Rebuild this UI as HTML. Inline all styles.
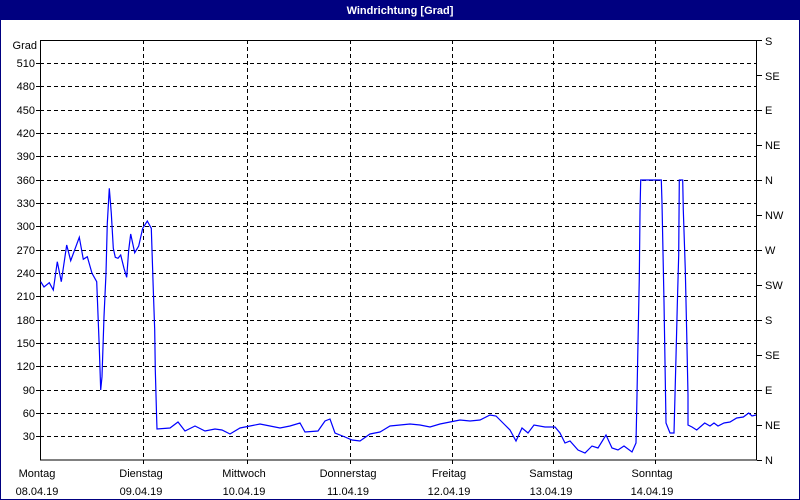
<!DOCTYPE html>
<html><head><meta charset="utf-8"><style>
html,body{margin:0;padding:0;background:#fff}
svg{display:block}
text{font-family:"Liberation Sans",sans-serif;font-size:11px;fill:#000}
</style></head><body>
<svg width="800" height="500" viewBox="0 0 800 500" xmlns="http://www.w3.org/2000/svg">
<rect x="0" y="0" width="800" height="500" fill="#fff"/>
<rect x="0.5" y="0.5" width="799" height="499" fill="none" stroke="#000080"/>
<rect x="0" y="0" width="800" height="20" fill="#000080"/>
<text x="400" y="14" text-anchor="middle" style="fill:#fff;font-weight:bold">Windrichtung [Grad]</text>
<g stroke="#000" stroke-dasharray="4,3" stroke-width="1">
<line x1="40" x2="757" y1="63.5" y2="63.5"/><line x1="40" x2="757" y1="86.5" y2="86.5"/>
<line x1="40" x2="757" y1="110.5" y2="110.5"/><line x1="40" x2="757" y1="133.5" y2="133.5"/>
<line x1="40" x2="757" y1="156.5" y2="156.5"/><line x1="40" x2="757" y1="180.5" y2="180.5"/>
<line x1="40" x2="757" y1="203.5" y2="203.5"/><line x1="40" x2="757" y1="226.5" y2="226.5"/>
<line x1="40" x2="757" y1="250.5" y2="250.5"/><line x1="40" x2="757" y1="273.5" y2="273.5"/>
<line x1="40" x2="757" y1="296.5" y2="296.5"/><line x1="40" x2="757" y1="320.5" y2="320.5"/>
<line x1="40" x2="757" y1="343.5" y2="343.5"/><line x1="40" x2="757" y1="366.5" y2="366.5"/>
<line x1="40" x2="757" y1="390.5" y2="390.5"/><line x1="40" x2="757" y1="413.5" y2="413.5"/>
<line x1="40" x2="757" y1="436.5" y2="436.5"/>
<line x1="143.5" x2="143.5" y1="40" y2="460"/><line x1="247.5" x2="247.5" y1="40" y2="460"/>
<line x1="350.5" x2="350.5" y1="40" y2="460"/><line x1="452.5" x2="452.5" y1="40" y2="460"/>
<line x1="553.5" x2="553.5" y1="40" y2="460"/><line x1="655.5" x2="655.5" y1="40" y2="460"/>
</g>
<rect x="40.5" y="40.5" width="716" height="419.5" fill="none" stroke="#000"/>
<g stroke="#000">
<line x1="36" x2="40" y1="63.5" y2="63.5"/><line x1="36" x2="40" y1="86.5" y2="86.5"/><line x1="36" x2="40" y1="110.5" y2="110.5"/><line x1="36" x2="40" y1="133.5" y2="133.5"/><line x1="36" x2="40" y1="156.5" y2="156.5"/><line x1="36" x2="40" y1="180.5" y2="180.5"/><line x1="36" x2="40" y1="203.5" y2="203.5"/><line x1="36" x2="40" y1="226.5" y2="226.5"/><line x1="36" x2="40" y1="250.5" y2="250.5"/><line x1="36" x2="40" y1="273.5" y2="273.5"/><line x1="36" x2="40" y1="296.5" y2="296.5"/><line x1="36" x2="40" y1="320.5" y2="320.5"/><line x1="36" x2="40" y1="343.5" y2="343.5"/><line x1="36" x2="40" y1="366.5" y2="366.5"/><line x1="36" x2="40" y1="390.5" y2="390.5"/><line x1="36" x2="40" y1="413.5" y2="413.5"/><line x1="36" x2="40" y1="436.5" y2="436.5"/>
<line x1="757" x2="762" y1="40.5" y2="40.5"/><line x1="757" x2="762" y1="75.5" y2="75.5"/><line x1="757" x2="762" y1="110.5" y2="110.5"/><line x1="757" x2="762" y1="145.5" y2="145.5"/><line x1="757" x2="762" y1="180.5" y2="180.5"/><line x1="757" x2="762" y1="215.5" y2="215.5"/><line x1="757" x2="762" y1="250.5" y2="250.5"/><line x1="757" x2="762" y1="285.5" y2="285.5"/><line x1="757" x2="762" y1="320.5" y2="320.5"/><line x1="757" x2="762" y1="355.5" y2="355.5"/><line x1="757" x2="762" y1="390.5" y2="390.5"/><line x1="757" x2="762" y1="425.5" y2="425.5"/><line x1="757" x2="762" y1="460.5" y2="460.5"/>
<line x1="143.5" x2="143.5" y1="460" y2="464"/><line x1="247.5" x2="247.5" y1="460" y2="464"/><line x1="350.5" x2="350.5" y1="460" y2="464"/><line x1="452.5" x2="452.5" y1="460" y2="464"/><line x1="553.5" x2="553.5" y1="460" y2="464"/><line x1="655.5" x2="655.5" y1="460" y2="464"/>
</g>
<g text-anchor="end">
<text x="37" y="49">Grad</text>
<text x="35" y="67">510</text><text x="35" y="90">480</text><text x="35" y="114">450</text><text x="35" y="137">420</text><text x="35" y="160">390</text><text x="35" y="184">360</text><text x="35" y="207">330</text><text x="35" y="230">300</text><text x="35" y="254">270</text><text x="35" y="277">240</text><text x="35" y="300">210</text><text x="35" y="324">180</text><text x="35" y="347">150</text><text x="35" y="370">120</text><text x="35" y="394">90</text><text x="35" y="417">60</text><text x="35" y="440">30</text>
</g>
<g>
<text x="765" y="45">S</text><text x="765" y="80">SE</text><text x="765" y="114">E</text><text x="765" y="149">NE</text><text x="765" y="184">N</text><text x="765" y="219">NW</text><text x="765" y="254">W</text><text x="765" y="289">SW</text><text x="765" y="324">S</text><text x="765" y="359">SE</text><text x="765" y="394">E</text><text x="765" y="429">NE</text><text x="765" y="464">N</text>
</g>
<g text-anchor="middle">
<text x="37" y="477">Montag</text><text x="37" y="495">08.04.19</text>
<text x="141" y="477">Dienstag</text><text x="141" y="495">09.04.19</text>
<text x="244" y="477">Mittwoch</text><text x="244" y="495">10.04.19</text>
<text x="348" y="477">Donnerstag</text><text x="348" y="495">11.04.19</text>
<text x="449" y="477">Freitag</text><text x="449" y="495">12.04.19</text>
<text x="551" y="477">Samstag</text><text x="551" y="495">13.04.19</text>
<text x="652" y="477">Sonntag</text><text x="652" y="495">14.04.19</text>
</g>
<polyline fill="none" stroke="#0000ff" stroke-width="1.2" points="
40.7,281.7 44,287 49.3,282.7 53.3,290 57.3,261.7 61.3,281.7 66.7,245 70.7,260.7 79.3,237.3 83.3,259.3 87.3,256.7 92,273.3 96.7,281.7 97.3,296.7 99.3,348 100.7,390 102,376.7 104,316.7 106,273.3 107.3,223.3 109.3,188.3 111.3,213.3 113.3,248.3 115.3,257.3 118,258.3 120.7,255 124,268.3 126.7,277.3 128.7,250 130.7,234 134.7,252.7 138.7,246 142.7,228.3 147.3,221 151.3,228.3 152,250 153.3,290 154.7,330 155.3,370 156.7,420 157,429
170,428 178,422 185,431 195,426 205,431 215,429 222,430 230,434 240,428 250,426 260,424 270,426 280,428 290,426 300,423 305,432 318,431 325,421 330,419 335,433 345,437 352,440 360,441 370,434 380,432 390,426 400,425 410,424 420,425 430,427 440,424 450,422 460,420 470,421 480,420 490,415 496,416 505,425 510,430 516,441 522,428 528,433 534,425 545,427 555,427 560,433 565,443 570,441 578,450 585,453 592,446 598,448 606,435 612,448 618,450 624,446 632,452 636,443
636.7,410 638,343 639.3,278 640,212 640.7,180 661.3,180 662,203 664,302 666,423 670,433 674,433 676,357 677.3,305 678.7,255 679.3,180 682.7,180 683.3,210 685.3,270 686.7,333 688,395 688,425 692,427 696.7,430 704.7,423 710,426 714,423 718,426 724,423 730,422 736.7,418 743.3,417 748.7,413 752,416 756,415"/>
</svg>
</body></html>
